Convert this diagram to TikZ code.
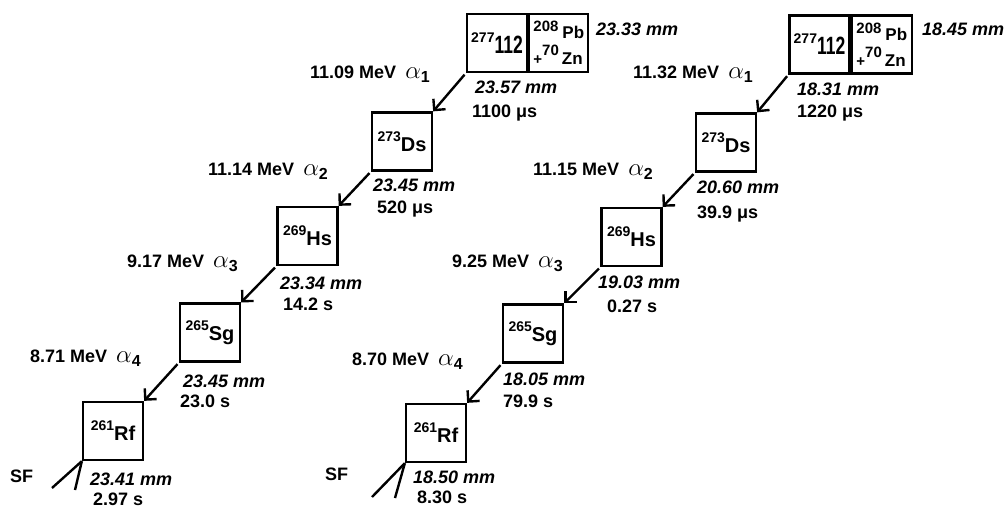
\documentclass[tikz,border=0pt]{standalone}
\usepackage{fontspec}
\setmainfont{Liberation Sans}
\newfontfamily\narrowfont{Liberation Sans}[FakeStretch=0.7]
\usetikzlibrary{arrows.meta}

\newcommand{\isotope}[2]{\raisebox{10pt}{\fontsize{14}{14}\selectfont #1}{\fontsize{20}{20}\selectfont #2}}
\newcommand{\alp}[1]{{\fontsize{25}{25}\selectfont$\alpha$}\raisebox{-4pt}{\fontsize{16}{16}\selectfont #1}}
\newcommand{\heavy}{\raisebox{11pt}{\fontsize{14}{14}\selectfont 277}{\narrowfont\fontsize{25}{25}\selectfont 112}}
\newcommand{\beam}{\raisebox{7pt}{\fontsize{15}{15}\selectfont 208}\hspace{4pt}Pb\\
	{\fontsize{15}{15}\selectfont +}\raisebox{9pt}{\fontsize{15}{15}\selectfont 70}\hspace{3pt}Zn}

\tikzset{
	nuc/.style={draw, line width=2.3pt, minimum width=60pt, minimum height=58pt, inner sep=0pt, font=\bfseries},
	target/.style={nuc, minimum width=59pt, anchor=west, align=left, font=\bfseries\fontsize{17}{26}\selectfont},
	lbl/.style={anchor=base west, inner sep=0pt, font=\fontsize{18}{20}\selectfont\bfseries},
	dist/.style={lbl, font=\fontsize{18}{20}\selectfont\bfseries\itshape},
	decay/.style={line width=2.4pt, -{Straight Barb[length=8pt,width=16pt]}, shorten <=2pt},
	sfline/.style={line width=2.4pt},
}

\begin{document}
\begin{tikzpicture}[x=1pt,y=-1pt]
		\useasboundingbox (0,0) rectangle (1007,509);
		% left chain
		\node [nuc] (l112) at (497,43) {\heavy};
		\node [target] (lbeam) at (l112.east) {\beam};
		\node [nuc] (lDs) at (402,141.5) {\isotope{273}{Ds}};
		\node [nuc] (lHs) at (307.5,236) {\isotope{269}{Hs}};
		\node [nuc] (lSg) at (210,332.5) {\isotope{265}{Sg}};
		\node [nuc] (lRf) at (113,431) {\isotope{261}{Rf}};
		\node [dist] (ld0) at (596,35) {23.33 mm};
		\node [lbl]  (le1) at (310,78) {11.09 MeV\hspace{9pt}\alp{1}};
		\node [dist] (ld1) at (475,93) {23.57 mm};
		\node [lbl]  (lt1) at (472,117) {1100 μs};
		\node [lbl]  (le2) at (208,175) {11.14 MeV\hspace{9pt}\alp{2}};
		\node [dist] (ld2) at (373,191) {23.45 mm};
		\node [lbl]  (lt2) at (377,213) {520 μs};
		\node [lbl]  (le3) at (127,267) {9.17 MeV\hspace{9pt}\alp{3}};
		\node [dist] (ld3) at (280,289) {23.34 mm};
		\node [lbl]  (lt3) at (283,310) {14.2 s};
		\node [lbl]  (le4) at (30,362) {8.71 MeV\hspace{9pt}\alp{4}};
		\node [dist] (ld4) at (183,387) {23.45 mm};
		\node [lbl]  (lt4) at (180,407) {23.0 s};
		\node [lbl]  (lsf) at (10,482) {SF};
		\node [dist] (ld5) at (90,485) {23.41 mm};
		\node [lbl]  (lt5) at (93,505) {2.97 s};
		\coordinate (lsfa) at (52,488);
		\coordinate (lsfb) at (75,490);
		% right chain
		\node [nuc] (r112) at (819.5,44.5) {\heavy};
		\node [target, minimum width=60pt] (rbeam) at (r112.east) {\beam};
		\node [nuc] (rDs) at (726,142.5) {\isotope{273}{Ds}};
		\node [nuc] (rHs) at (631.5,237) {\isotope{269}{Hs}};
		\node [nuc] (rSg) at (533,333.5) {\isotope{265}{Sg}};
		\node [nuc] (rRf) at (436,433) {\isotope{261}{Rf}};
		\node [dist] (rd0) at (922,35) {18.45 mm};
		\node [lbl]  (re1) at (633,78) {11.32 MeV\hspace{9pt}\alp{1}};
		\node [dist] (rd1) at (797,95) {18.31 mm};
		\node [lbl]  (rt1) at (797,117) {1220 μs};
		\node [lbl]  (re2) at (533,175) {11.15 MeV\hspace{9pt}\alp{2}};
		\node [dist] (rd2) at (697,193) {20.60 mm};
		\node [lbl]  (rt2) at (697,218) {39.9 μs};
		\node [lbl]  (re3) at (452,267) {9.25 MeV\hspace{9pt}\alp{3}};
		\node [dist] (rd3) at (598,288) {19.03 mm};
		\node [lbl]  (rt3) at (607,312) {0.27 s};
		\node [lbl]  (re4) at (352,365) {8.70 MeV\hspace{9pt}\alp{4}};
		\node [dist] (rd4) at (503,385) {18.05 mm};
		\node [lbl]  (rt4) at (503,407) {79.9 s};
		\node [lbl]  (rsf) at (325,480) {SF};
		\node [dist] (rd5) at (413,483) {18.50 mm};
		\node [lbl]  (rt5) at (417,503) {8.30 s};
		\coordinate (rsfa) at (372,497);
		\coordinate (rsfb) at (395,498);
		% decays
		\foreach \a/\b in {l112/lDs, lDs/lHs, lHs/lSg, lSg/lRf, r112/rDs, rDs/rHs, rHs/rSg, rSg/rRf} {
			\draw [decay] (\a.south west) -- (\b.north east);
		}
		\foreach \c in {l, r} {
			\draw [sfline] (\c Rf.south west) -- (\c sfa);
			\draw [sfline] (\c Rf.south west) -- (\c sfb);
		}
	\end{tikzpicture}
\end{document}
